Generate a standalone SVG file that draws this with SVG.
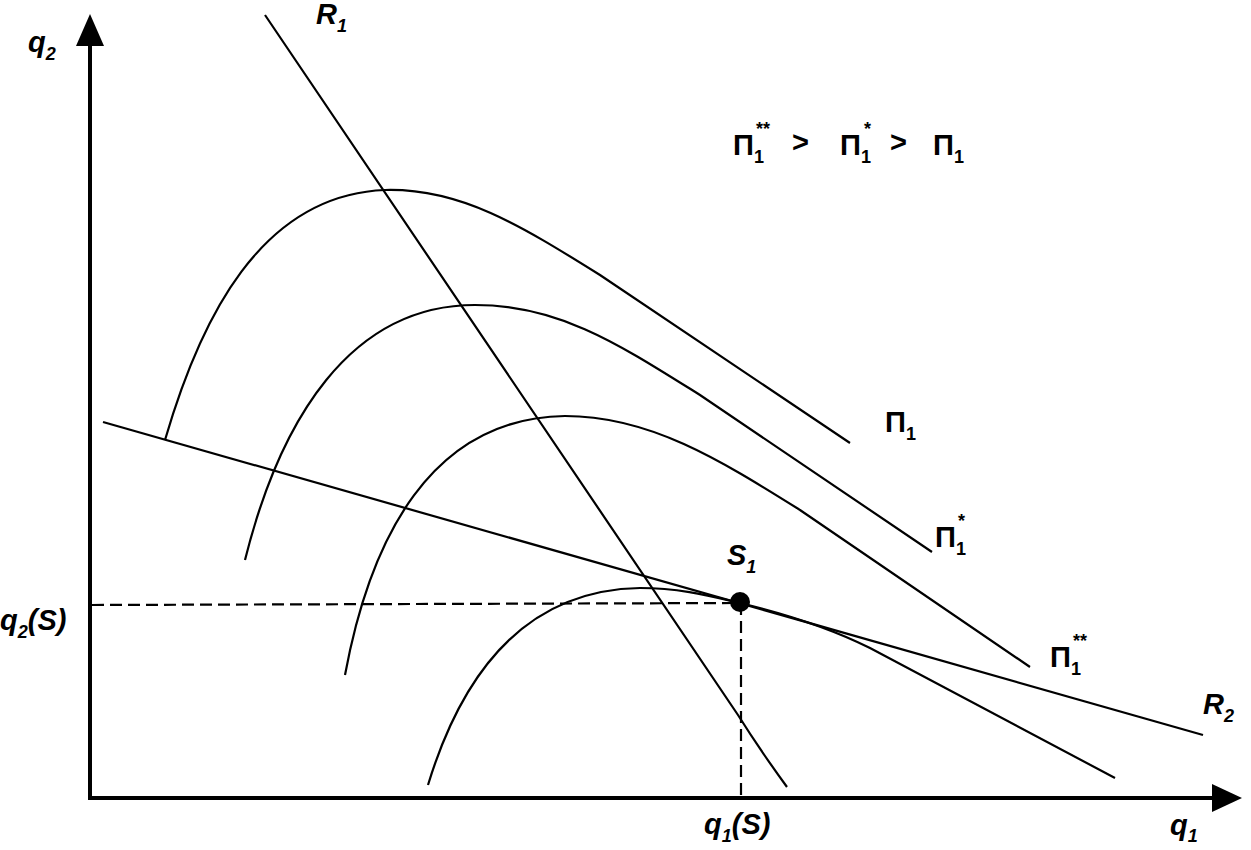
<svg xmlns="http://www.w3.org/2000/svg" width="1251" height="850" viewBox="0 0 1251 850">
<style>
.ax{stroke:#000;stroke-width:4;fill:none}
.ln{stroke:#000;stroke-width:2.2;fill:none}
.ds{stroke:#000;stroke-width:2.2;fill:none;stroke-dasharray:12,6}
text{font-family:"Liberation Sans",Arial,sans-serif;font-size:29px;fill:#000;font-weight:bold}
.it{font-style:italic}
.sb{font-size:18px}
</style>
<rect width="1251" height="850" fill="#fff"/>
<g id="connectors">
<line class="ax" x1="90" y1="800" x2="90" y2="44"/>
<path d="M76,46 L90,14 L104,46 Z" fill="#000"/>
<line class="ax" x1="88" y1="798" x2="1214" y2="798"/>
<path d="M1212,784 L1242,798 L1212,812 Z" fill="#000"/>
<path id="R1" class="ln" d="M265,15 L738,715 Q760,750 787,787"/>
<line id="R2" class="ln" x1="103" y1="422" x2="1203" y2="735"/>
<path id="pi1" class="ln" d="M165,440 C200,320 260,195 385,190 C460,188 520,225 600,275 L850,443"/>
<path id="pi1s" class="ln" d="M245,560 C280,420 350,305 475,305 C560,305 620,345 700,395 L932,552"/>
<path id="pi1ss" class="ln" d="M345,675 C370,540 430,418 565,416 C650,416 720,460 800,510 L1030,667"/>
<path id="pi0" class="ln" d="M428,785 C460,680 520,590 640,588 C680,588 710,596 740,603 C790,615 830,628 870,648 L1115,778"/>
<line class="ds" x1="92" y1="605" x2="740" y2="603"/>
<line class="ds" x1="741" y1="603" x2="741" y2="796"/>
<circle cx="740" cy="602" r="10" fill="#000"/>
</g>
<g id="labels">
<text class="it" x="28" y="52">q<tspan class="sb" dy="8">2</tspan></text>
<text class="it" x="316" y="24">R<tspan class="sb" dy="8">1</tspan></text>
<text x="733" y="155">Π<tspan class="sb" dy="8">1</tspan></text>
<text class="sb" x="756" y="135">**</text>
<text x="792" y="152">&gt;</text>
<text x="840" y="155">Π<tspan class="sb" dy="8">1</tspan></text>
<text class="sb" x="864" y="135">*</text>
<text x="890" y="152">&gt;</text>
<text x="933" y="155">Π<tspan class="sb" dy="8">1</tspan></text>
<text x="885" y="432">Π<tspan class="sb" dy="8">1</tspan></text>
<text x="935" y="547">Π<tspan class="sb" dy="8">1</tspan></text>
<text class="sb" x="958" y="527">*</text>
<text x="1050" y="667">Π<tspan class="sb" dy="8">1</tspan></text>
<text class="sb" x="1073" y="647">**</text>
<text class="it" x="727" y="565">S<tspan class="sb" dy="8">1</tspan></text>
<text class="it" x="1203" y="714">R<tspan class="sb" dy="8">2</tspan></text>
<text class="it" x="0" y="630">q<tspan class="sb" dy="8">2</tspan><tspan dy="-8">(S)</tspan></text>
<text class="it" x="704" y="834">q<tspan class="sb" dy="8">1</tspan><tspan dy="-8">(S)</tspan></text>
<text class="it" x="1170" y="835">q<tspan class="sb" dy="7">1</tspan></text>
</g>
</svg>
